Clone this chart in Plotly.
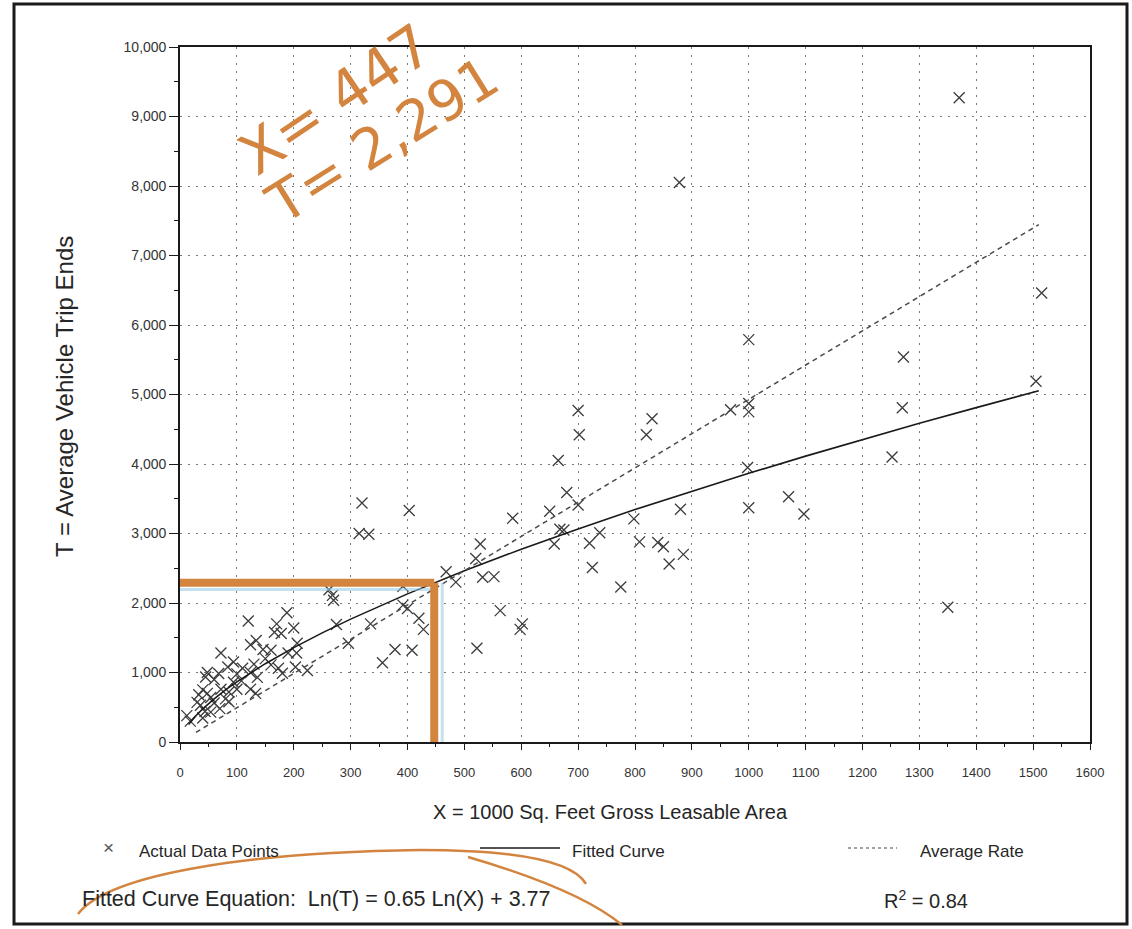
import math
import plotly.graph_objects as go

# Shopping center trip generation data: X = 1000 sq. ft. GLA, T = average vehicle trip ends
gla_ksf = [
    1370, 878, 1515, 1000, 1272, 1505, 1270, 968, 1000, 1000, 700, 702, 830, 820, 665,
    1252, 998, 680, 1070, 1000, 1097, 650, 700, 585, 880, 798, 668, 738, 675, 658,
    720, 808, 840, 850, 885, 860, 725, 775, 1350,
    320, 403, 315, 332, 528, 520, 532, 552, 468, 485, 563, 598, 602, 522, 262,
    268, 270, 392, 392, 400, 420, 428, 335, 275, 296, 356, 378, 408,
    120, 188, 170, 200, 166, 178, 134, 124, 146, 160, 206, 72, 94, 84, 124,
    136, 160, 173, 180, 205, 203, 224, 48, 45, 68, 60, 40, 48, 33, 54,
    72, 86, 94, 108, 100, 80, 86, 124, 133, 36, 44, 54, 30, 18, 12,
    40, 100, 110, 150, 190, 130, 60, 70,
]
trip_ends = [
    9270, 8050, 6460, 5790, 5540, 5190, 4810, 4780, 4870, 4750, 4770, 4420, 4650, 4420, 4050,
    4100, 3950, 3590, 3530, 3370, 3280, 3320, 3410, 3220, 3350, 3210, 3060, 3010, 3050, 2850,
    2860, 2880, 2870, 2810, 2700, 2560, 2510, 2230, 1940,
    3440, 3330, 3000, 2990, 2850, 2640, 2370, 2380, 2450, 2300, 1890, 1620, 1700, 1350, 2190,
    2110, 2040, 2240, 1970, 1920, 1780, 1620, 1700, 1690, 1420, 1140, 1330, 1320,
    1740, 1860, 1700, 1640, 1580, 1560, 1460, 1400, 1330, 1320, 1420, 1280, 1150, 1080, 1000,
    930, 1110, 1060, 990, 1280, 1080, 1030, 1000, 935, 985, 900, 750, 700, 680, 640,
    760, 720, 860, 880, 760, 620, 580, 760, 700, 530, 440, 430, 570, 300, 380,
    345, 980, 1060, 1200, 1280, 1120, 560, 480,
]

# Regression: Ln(T) = 0.65 Ln(X) + 3.77 ; average rate T = 4.93 X
fit_slope = 0.65
fit_const = 3.77
avg_rate = 4.93
r_squared = 0.84
fit_x = [15, 20, 30, 40, 60, 80, 100, 150, 200, 250, 300, 400, 500, 600, 700, 800,
         900, 1000, 1100, 1200, 1300, 1400, 1510]
avg_x = [28, 1510]

# Highlighted estimate
est_x = 447
est_t = 2291

x_ticks = list(range(0, 1700, 100))
y_ticks = list(range(0, 11000, 1000))

fit_t = [math.exp(fit_slope * math.log(v) + fit_const) for v in fit_x]
avg_t = [avg_rate * v for v in avg_x]

W, H = 1132, 929
L, R, T_, B = 180, 1090, 47, 742
ORANGE = "#D3843F"
INK = "#262626"


def px(x, y):
    """Pixel position to paper coordinates."""
    return (x - L) / (R - L), (B - y) / (B - T_)


def path_px(cmds):
    out = []
    for c in cmds:
        if isinstance(c, str):
            out.append(c)
        else:
            xp, yp = px(*c)
            out.append(f"{xp:.4f},{yp:.4f}")
    return " ".join(out)


fig = go.Figure()

fig.add_trace(go.Scatter(
    x=gla_ksf, y=trip_ends, mode="markers",
    marker=dict(symbol="x-thin-open", size=11, color="#3c3c3c",
                line=dict(width=1.3, color="#3c3c3c")),
    showlegend=False, hoverinfo="x+y",
))
fig.add_trace(go.Scatter(
    x=fit_x, y=fit_t, mode="lines", line=dict(color="#1a1a1a", width=1.6),
    showlegend=False,
))
fig.add_trace(go.Scatter(
    x=avg_x, y=avg_t, mode="lines",
    line=dict(color="#4a4a4a", width=1.5, dash="5px,4px"), showlegend=False,
))

shapes = []
# Outer frame
shapes.append(dict(type="rect", xref="paper", yref="paper",
                   x0=px(14, 0)[0], x1=px(1127, 0)[0], y0=px(0, 924)[1], y1=px(0, 4)[1],
                   line=dict(color="#1a1a1a", width=3), layer="below"))
# Hand-drawn estimate lines (light blue shadow then orange)
shapes.append(dict(type="line", xref="x", yref="y", x0=0, x1=est_x, y0=est_t - 95, y1=est_t - 95,
                   line=dict(color="rgba(150,200,225,0.55)", width=3)))
shapes.append(dict(type="line", xref="x", yref="y", x0=est_x + 14, x1=est_x + 14, y0=0, y1=est_t,
                   line=dict(color="rgba(150,200,225,0.55)", width=3)))
shapes.append(dict(type="line", xref="x", yref="y", x0=0, x1=est_x, y0=est_t, y1=est_t,
                   line=dict(color=ORANGE, width=8)))
shapes.append(dict(type="line", xref="x", yref="y", x0=est_x, x1=est_x, y0=-100, y1=est_t,
                   line=dict(color=ORANGE, width=8)))
# Hand-drawn loop around the equation
shapes.append(dict(type="path", xref="paper", yref="paper",
                   path=path_px(["M", (78, 914), "C", (110, 872), (260, 852), (420, 850),
                                 "C", (510, 850), (572, 860), (586, 884)]),
                   line=dict(color=ORANGE, width=2.5)))
shapes.append(dict(type="path", xref="paper", yref="paper",
                   path=path_px(["M", (468, 857), "C", (540, 878), (592, 900), (622, 925)]),
                   line=dict(color=ORANGE, width=2.5)))
# Legend line samples
shapes.append(dict(type="line", xref="paper", yref="paper",
                   x0=px(480, 0)[0], x1=px(560, 0)[0], y0=px(0, 848)[1], y1=px(0, 848)[1],
                   line=dict(color="#1a1a1a", width=1.5)))
shapes.append(dict(type="line", xref="paper", yref="paper",
                   x0=px(848, 0)[0], x1=px(897, 0)[0], y0=px(0, 848)[1], y1=px(0, 848)[1],
                   line=dict(color="#444444", width=1.2, dash="3px,3px")))

annotations = []
FONT = "Liberation Sans, Arial, sans-serif"


def note(text, x, y, size=13, xanchor="center", angle=0, color=INK, family=FONT):
    xp, yp = px(x, y)
    annotations.append(dict(text=text, x=xp, y=yp, xref="paper", yref="paper",
                            showarrow=False, xanchor=xanchor, yanchor="middle",
                            textangle=angle, font=dict(size=size, color=color, family=family)))


note("X = 1000 Sq. Feet Gross Leasable Area", 610, 812, size=20)
note("T = Average Vehicle Trip Ends", 64, 397, size=24, angle=-90)
note("×", 108, 847, size=19, color="#555555")
note("Actual Data Points", 137, 851, size=17, xanchor="left")
note("Fitted Curve", 570, 851, size=17, xanchor="left")
note("Average Rate", 918, 851, size=17, xanchor="left")
note(f"Fitted Curve Equation:  Ln(T) = {fit_slope:.2f} Ln(X) + {fit_const:.2f}", 80, 899,
     size=21.5, xanchor="left")
note(f"R<sup>2</sup> = {r_squared:.2f}", 926, 899, size=20)
# Handwritten estimate note
note(f"X= {est_x}", 335, 100, size=58, angle=-34, color=ORANGE, family="DejaVu Sans")
note(f"T= {est_t:,}", 382, 140, size=56, angle=-32, color=ORANGE, family="DejaVu Sans")

axis_common = dict(showline=True, linecolor="#1a1a1a", linewidth=1.6, mirror=True,
                   showgrid=True, gridcolor="#7a7a7a", gridwidth=1.2, griddash="2px,6px",
                   zeroline=False, ticks="outside", tickcolor="#1a1a1a")

fig.update_layout(
    width=W, height=H,
    margin=dict(l=L, r=W - R, t=T_, b=H - B),
    paper_bgcolor="white", plot_bgcolor="white",
    shapes=shapes, annotations=annotations,
    xaxis=dict(range=[0, 1600], tickvals=x_ticks, ticklen=6, ticklabelstandoff=12,
               tickfont=dict(family=FONT, size=13, color="#333333"),
               minor=dict(dtick=50, ticklen=3, ticks="outside", tickcolor="#1a1a1a", showgrid=False),
               **axis_common),
    yaxis=dict(range=[0, 10000], tickvals=y_ticks, tickformat=",d", ticklen=9,
               tickfont=dict(family=FONT, size=14, color="#333333"),
               minor=dict(dtick=500, ticklen=4, ticks="outside", tickcolor="#1a1a1a", showgrid=False),
               **axis_common),
)

fig.write_html("out.html")
